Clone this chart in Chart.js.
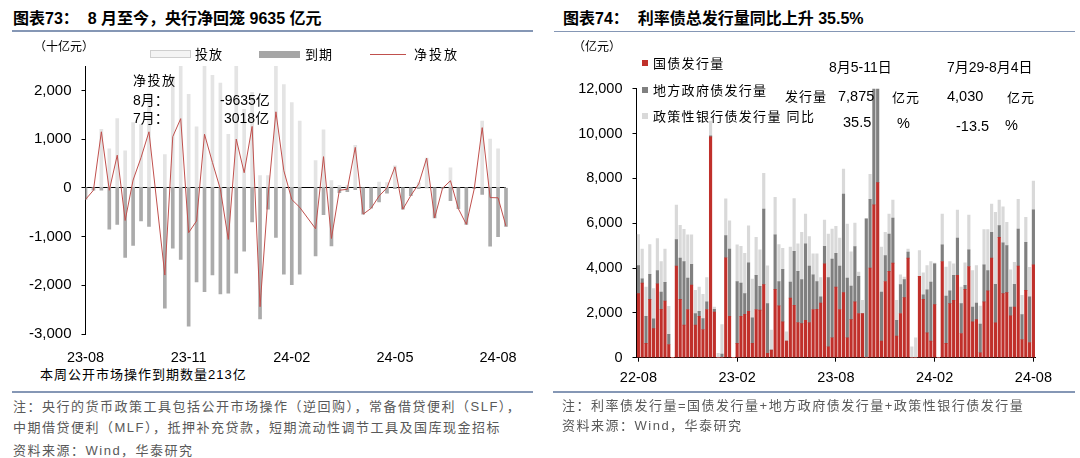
<!DOCTYPE html>
<html>
<head>
<meta charset="utf-8">
<script src="https://cdn.jsdelivr.net/npm/chart.js@4.4.1/dist/chart.umd.min.js"></script>
<style>
body{margin:0;width:1080px;height:458px;background:#fff;position:relative;overflow:hidden;font-family:"Liberation Sans","Noto Sans CJK SC",sans-serif;color:#000;}
.t{position:absolute;white-space:nowrap;line-height:1;}
.b{font-weight:bold;font-size:16px;}
.n{font-size:13px;color:#595959;letter-spacing:1.5px;}
.hr{position:absolute;height:1.5px;background:#8597b5;}
.box{position:absolute;}
#w1{position:absolute;left:0;top:47px;}
#w2{position:absolute;left:540px;top:70px;}
</style>
</head>
<body>
<div id="w1"><canvas id="c1" width="520" height="318"></canvas></div>
<div id="w2"><canvas id="c2" width="520" height="325"></canvas></div>

<!-- left panel -->
<div class="t b" style="left:13px;top:11px;">图表73：&nbsp;&nbsp;8 月至今，央行净回笼 9635 亿元</div>
<div class="hr" style="left:12px;top:30px;width:521px;"></div>
<div class="t" style="left:34px;top:41px;font-size:12px;">（十亿元）</div>
<div class="box" style="left:150px;top:50px;width:39px;height:6px;background:#f4f4f4;border:1px solid #cfcfcf;"></div>
<div class="t" style="left:195px;top:47.5px;font-size:13px;letter-spacing:1px;">投放</div>
<div class="box" style="left:259px;top:50.5px;width:41px;height:7px;background:#a6a6a6;"></div>
<div class="t" style="left:305px;top:47.5px;font-size:13px;letter-spacing:1px;">到期</div>
<div class="box" style="left:370px;top:54px;width:36px;height:1px;background:#c0504d;"></div>
<div class="t" style="left:414px;top:47.5px;font-size:13px;letter-spacing:2px;">净投放</div>
<div class="t" style="left:133px;top:73.5px;font-size:13px;letter-spacing:1.5px;">净投放</div>
<div class="t" style="left:133px;top:93px;font-size:14px;">8月：</div>
<div class="t" style="left:220px;top:93px;font-size:14px;">-9635亿</div>
<div class="t" style="left:133px;top:111px;font-size:14px;">7月：</div>
<div class="t" style="left:224px;top:111px;font-size:14px;">3018亿</div>
<div class="t" style="left:40px;top:367.5px;font-size:13px;letter-spacing:1px;">本周公开市场操作到期数量213亿</div>
<div class="hr" style="left:12px;top:391px;width:521px;"></div>
<div class="t n" style="left:13px;top:400px;">注：央行的货币政策工具包括公开市场操作（逆回购），常备借贷便利（SLF），</div>
<div class="t n" style="left:13px;top:420.5px;">中期借贷便利（MLF），抵押补充贷款，短期流动性调节工具及国库现金招标</div>
<div class="t n" style="left:13px;top:443.5px;">资料来源：Wind，华泰研究</div>

<!-- right panel -->
<div class="t b" style="left:563px;top:11px;">图表74：&nbsp;&nbsp;利率债总发行量同比上升 35.5%</div>
<div class="hr" style="left:554px;top:30.5px;width:521px;"></div>
<div class="t" style="left:573px;top:41px;font-size:12px;">（亿元）</div>
<div class="box" style="left:642px;top:60px;width:6px;height:6px;background:#c0302b;"></div>
<div class="t" style="left:653px;top:57px;font-size:13px;letter-spacing:1.3px;">国债发行量</div>
<div class="box" style="left:642px;top:87px;width:6px;height:6px;background:#808080;"></div>
<div class="t" style="left:653px;top:83.5px;font-size:13px;letter-spacing:1.3px;">地方政府债发行量</div>
<div class="box" style="left:642px;top:113px;width:6px;height:6px;background:#d9d9d9;"></div>
<div class="t" style="left:653px;top:109.5px;font-size:13px;letter-spacing:1.3px;">政策性银行债发行量 同比</div>
<div class="t" style="left:829px;top:60px;font-size:14px;">8月5-11日</div>
<div class="t" style="left:947px;top:60px;font-size:14px;">7月29-8月4日</div>
<div class="t" style="left:785px;top:90px;font-size:13px;letter-spacing:1px;">发行量</div>
<div class="t" style="left:838px;top:88.5px;font-size:14.5px;">7,875</div>
<div class="t" style="left:892px;top:91px;font-size:13px;letter-spacing:1px;">亿元</div>
<div class="t" style="left:947px;top:88.5px;font-size:14.5px;">4,030</div>
<div class="t" style="left:1007px;top:91px;font-size:13px;letter-spacing:1px;">亿元</div>
<div class="t" style="left:843px;top:114.5px;font-size:14.5px;">35.5</div>
<div class="t" style="left:897px;top:116px;font-size:14.5px;">%</div>
<div class="t" style="left:956px;top:118.5px;font-size:14.5px;">-13.5</div>
<div class="t" style="left:1005px;top:118px;font-size:14.5px;">%</div>
<div class="hr" style="left:553px;top:391px;width:522px;"></div>
<div class="t n" style="left:562px;top:399px;">注：利率债发行量=国债发行量+地方政府债发行量+政策性银行债发行量</div>
<div class="t n" style="left:562px;top:418.5px;">资料来源：Wind，华泰研究</div>

<script>
// left: weekly open market operations, 十亿元
const leftTickText=['23-08','23-11','24-02','24-05','24-08'];
const leftTickIdx=[0,13,26,39,52];
const leftYTicks=[-3000,-2000,-1000,0,1000,2000];
const leftIn=[0,0,1200,800,1420,760,1340,1300,1940,null,680,2290,2890,1920,1250,3230,2310,2150,1100,2750,1610,1960,250,250,2580,2120,1750,1370,null,560,1190,150,50,50,870,0,0,120,110,450,0,0,100,610,0,0,410,0,0,0,1370,1000,800,0];
const leftOut=[-240,-50,-50,-850,-750,-1430,-1180,-680,-790,null,-2470,-1240,-1470,-2840,-1930,-2130,-1790,-2180,-2160,-1750,-1300,-700,-2690,-440,-1020,-1770,-1990,-1770,null,-1400,-550,-1190,-100,-80,-40,-540,-420,-290,-110,-20,-440,-160,-20,0,-620,-10,-265,-430,-750,-20,-135,-1200,-1005,-790];
const leftNet=[-240,-50,1150,-50,670,-670,160,620,1150,null,-1790,1050,1420,-920,-680,1100,520,-30,-1060,1000,310,1260,-2440,-190,1560,350,-240,-400,null,-840,640,-1040,-50,-30,830,-540,-420,-170,0,430,-440,-160,80,610,-620,-10,145,-430,-750,-20,1235,-200,-205,-790];

// right: weekly rate bond issuance, 亿元
const rightTickText=['22-08','23-02','23-08','24-02','24-08'];
const rightTickIdx=[0,26,52,78,104];
const govBond=[2860,3330,640,2600,1300,3300,2160,2530,590,0,4090,2600,1450,2150,3240,1450,1850,1260,2150,9850,2040,0,0,4460,1850,0,640,1850,1940,2070,640,2150,2120,3260,190,340,3050,2310,1600,740,2660,2340,1570,1520,1670,1570,2150,2160,2440,4190,490,890,3150,2150,2900,890,1700,2490,1970,1970,0,4000,6820,7810,740,3400,3850,4220,960,1970,2680,4440,0,0,3630,2600,1110,740,2370,0,4290,640,2410,2560,3670,1080,3050,4070,1600,1700,220,2490,2980,4440,1550,5370,2860,2900,1870,2260,4090,810,3000,680,4140];
const localBond=[1250,190,1210,1120,430,590,770,830,450,0,1180,1840,2840,1400,930,520,220,490,340,50,120,0,160,990,3000,0,2760,1480,920,2160,1140,1520,1060,3370,2220,0,2430,1090,2340,0,710,2410,2280,1970,3410,2520,1550,1240,270,780,3080,3510,1510,1940,4400,2660,1500,2470,1660,0,6190,3070,6180,5190,2190,1160,1670,2010,710,1290,800,270,0,0,0,210,1920,2630,1820,0,740,2110,570,1110,1670,1330,180,740,660,740,1280,1650,910,1150,1720,520,2260,2100,390,1010,1650,1110,2150,2030,2460];
const policyBond=[1380,1330,1300,1330,1350,1420,1360,1490,1250,0,1540,1460,1440,1930,1310,1030,1080,1080,1080,660,100,190,1320,1640,1260,0,1630,1640,1800,1650,1730,1700,1630,1600,1690,890,1670,1650,940,410,1560,2350,1230,2100,1330,1310,930,1230,860,1170,1950,1340,1200,1250,1110,2410,1520,1050,190,590,0,1110,0,0,2000,1030,890,800,890,440,120,140,490,890,1150,980,1080,920,30,0,1380,1290,1310,520,1250,740,1000,1550,1630,1670,800,1570,1820,1260,3210,1140,1610,1040,1660,990,1330,860,1110,1320,1275];

Chart.defaults.font.family='"Liberation Sans", Arial, sans-serif';
Chart.defaults.color='#000';

const leftLabels=leftNet.map((_,i)=>{const k=leftTickIdx.indexOf(i);return k>=0?leftTickText[k]:'';});
const rightLabels=govBond.map((_,i)=>{const k=rightTickIdx.indexOf(i);return k>=0?rightTickText[k]:'';});
const edgeClip={left:0,top:0,right:8,bottom:0};
const fmt=v=>v.toLocaleString('en-US');

new Chart(document.getElementById('c1'),{
    type:'bar',
    data:{labels:leftLabels,datasets:[
        {label:'投放',data:leftIn,backgroundColor:'#e4e4e4',barThickness:3,grouped:false,order:3,clip:edgeClip},
        {label:'到期',data:leftOut,backgroundColor:'#ababab',barThickness:3,grouped:false,order:2,clip:edgeClip},
        {type:'line',label:'净投放',data:leftNet,borderColor:'#c0504d',borderWidth:1,pointRadius:0,tension:0,spanGaps:true,order:1,clip:edgeClip}
    ]},
    options:{
        responsive:false,animation:false,
        layout:{padding:{left:0,right:14,top:0,bottom:0}},
        plugins:{legend:{display:false},tooltip:{enabled:false}},
        scales:{
            x:{offset:false,grid:{display:false},border:{display:false},
               ticks:{autoSkip:false,maxRotation:0,padding:7,font:{size:14.5}},
               afterFit:s=>{s.height=31;}},
            y:{min:-3000,max:2500,
               afterBuildTicks:s=>{s.ticks=leftYTicks.map(v=>({value:v}));},
               ticks:{autoSkip:false,padding:10,font:{size:15},callback:fmt},
               grid:{color:c=>c.tick&&c.tick.value===0?'#000':'rgba(0,0,0,0)',tickColor:'#000',tickLength:4},
               border:{display:true,color:'#000'},
               afterFit:s=>{s.width=85.5;}}
        }
    }
});

new Chart(document.getElementById('c2'),{
    type:'bar',
    data:{labels:rightLabels,datasets:[
        {label:'国债发行量',data:govBond,backgroundColor:'#c0302b',barThickness:2.5},
        {label:'地方政府债发行量',data:localBond,backgroundColor:'#808080',barThickness:2.5},
        {label:'政策性银行债发行量',data:policyBond,backgroundColor:'#d9d9d9',barThickness:2.5}
    ]},
    options:{
        responsive:false,animation:false,
        layout:{padding:{left:0,right:12,top:0,bottom:0}},
        plugins:{legend:{display:false},tooltip:{enabled:false}},
        scales:{
            x:{stacked:true,offset:true,
               grid:{offset:false,drawOnChartArea:false,tickLength:4,color:c=>rightTickIdx.includes(c.index)?'#000':'rgba(0,0,0,0)'},
               border:{display:true,color:'#000'},
               ticks:{autoSkip:false,maxRotation:0,padding:8,font:{size:14.5}},
               afterFit:s=>{s.height=37.3;}},
            y:{stacked:true,min:0,max:12000,
               ticks:{stepSize:2000,padding:10,font:{size:14.5},callback:fmt},
               grid:{drawOnChartArea:false,tickLength:4,color:'#000'},
               border:{display:true,color:'#000'},
               afterFit:s=>{s.width=96.5;}}
        }
    }
});
</script>
</body>
</html>
